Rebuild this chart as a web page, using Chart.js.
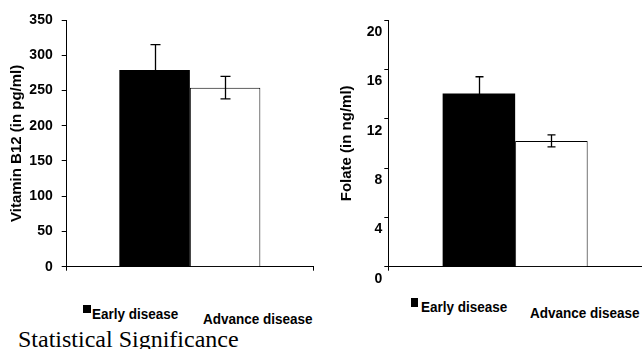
<!DOCTYPE html>
<html>
<head>
<meta charset="utf-8">
<script src="https://cdn.jsdelivr.net/npm/chart.js@4.4.0/dist/chart.umd.min.js"></script>
<style>
  body { margin: 0; background: #fff; width: 642px; height: 349px; overflow: hidden; position: relative; }
  canvas { position: absolute; top: 0; }
  #b12-chart { left: 0; }
  #folate-chart { left: 330px; }
  .key { position: absolute; font: bold 15px "Liberation Sans", Arial, sans-serif; line-height: 15px;
         white-space: nowrap; transform: scaleX(0.9); transform-origin: left top; color: #000; }
  .swatch { position: absolute; background: #000; }
  .caption { position: absolute; left: 18px; top: 326.6px; font: 24px "Liberation Serif", "Times New Roman", serif;
             line-height: 24px; white-space: nowrap; color: #000; }
</style>
</head>
<body>
<canvas id="b12-chart" width="330" height="290"></canvas>
<canvas id="folate-chart" width="312" height="290"></canvas>

<div class="swatch" style="left:83px; top:305px; width:8px; height:8px;"></div>
<div class="key" id="b12-key-0" style="left:92px; top:306.3px;"></div>
<div class="key" id="b12-key-1" style="left:203px; top:311.3px;"></div>

<div class="swatch" style="left:411px; top:298px; width:7px; height:9px;"></div>
<div class="key" id="folate-key-0" style="left:421px; top:298.8px;"></div>
<div class="key" id="folate-key-1" style="left:530px; top:305.3px;"></div>

<div class="caption" id="caption"></div>

<script>
// Data (mean and SEM per group)
const groups = ['Early disease', 'Advance disease'];
const category = ['Disease stage'];
const b12Mean = [279, 254];
const b12Sem = [36, 16];
const folateMean = [14.05, 10.2];
const folateSem = [1.35, 0.48];
const b12Ticks = { min: 0, max: 350, step: 50 };
const folateTicks = { min: 0, max: 20, step: 4 };
const captionText = 'Statistical Significance';

const FONT = '"Liberation Sans", Arial, sans-serif';

// draws mean +/- SEM whiskers on top of each bar
const errorBars = {
    id: 'errorBars',
    afterDatasetsDraw(chart, args, opts) {
        const ctx = chart.ctx;
        const y = chart.scales.y;
        ctx.save();
        ctx.strokeStyle = '#000';
        ctx.lineWidth = 1.3;
        chart.data.datasets.forEach((ds, i) => {
            chart.getDatasetMeta(i).data.forEach((bar, j) => {
                const hi = y.getPixelForValue(ds.data[j] + ds.sem[j]);
                const lo = y.getPixelForValue(ds.data[j] - ds.sem[j]);
                const x = Math.round(bar.x) + 0.5;
                ctx.beginPath();
                ctx.moveTo(x, hi); ctx.lineTo(x, lo);
                ctx.moveTo(x - opts.cap, hi); ctx.lineTo(x + opts.cap, hi);
                ctx.moveTo(x - opts.cap, lo); ctx.lineTo(x + opts.cap, lo);
                ctx.stroke();
            });
        });
        ctx.restore();
    }
};

function makeChart(id, means, sems, range, title, s) {
    return new Chart(document.getElementById(id), {
        type: 'bar',
        data: {
            labels: category,
            datasets: [
                { label: groups[0], data: [means[0]], sem: [sems[0]],
                  backgroundColor: '#000', borderWidth: 0 },
                { label: groups[1], data: [means[1]], sem: [sems[1]],
                  backgroundColor: '#fff', borderColor: '#000', borderWidth: 1, borderSkipped: 'bottom' }
            ]
        },
        options: {
            responsive: false,
            animation: false,
            events: [],
            categoryPercentage: s.catPct,
            barPercentage: 1,
            layout: { padding: { left: 4, top: 20, right: s.padRight, bottom: 19.3 } },
            plugins: {
                legend: { display: false },
                tooltip: { enabled: false },
                errorBars: { cap: s.cap }
            },
            scales: {
                x: {
                    ticks: { display: false },
                    grid: { drawOnChartArea: false, tickLength: 4, color: '#000', offset: true },
                    border: { color: '#000' },
                    afterFit: (scale) => { scale.height = 4; }
                },
                y: {
                    min: range.min,
                    max: range.max,
                    ticks: {
                        stepSize: range.step,
                        color: '#000',
                        padding: s.tickPad,
                        labelOffset: s.labelOffset,
                        font: { family: FONT, size: 14, weight: 'bold' }
                    },
                    grid: { drawOnChartArea: false, tickLength: s.tickLen, color: '#000' },
                    border: { color: '#000' },
                    title: {
                        display: true,
                        text: title,
                        color: '#000',
                        padding: { top: 4, bottom: 4 },
                        font: { family: FONT, size: 15, weight: 'bold' }
                    },
                    afterFit: (scale) => { scale.width = s.axisWidth; }
                }
            }
        },
        plugins: [errorBars]
    });
}

makeChart('b12-chart', b12Mean, b12Sem, b12Ticks, 'Vitamin B12 (in pg/ml)',
    { catPct: 0.5725, padRight: 17, cap: 5, tickPad: 9, tickLen: 5, labelOffset: 0, axisWidth: 62.7 });
makeChart('folate-chart', folateMean, folateSem, folateTicks, 'Folate (in ng/ml)',
    { catPct: 0.5716, padRight: 0, cap: 4, tickPad: 2, tickLen: 4, labelOffset: 12, axisWidth: 54.3 });

document.getElementById('b12-key-0').textContent = groups[0];
document.getElementById('b12-key-1').textContent = groups[1];
document.getElementById('folate-key-0').textContent = groups[0];
document.getElementById('folate-key-1').textContent = groups[1];
document.getElementById('caption').textContent = captionText;
</script>
</body>
</html>
